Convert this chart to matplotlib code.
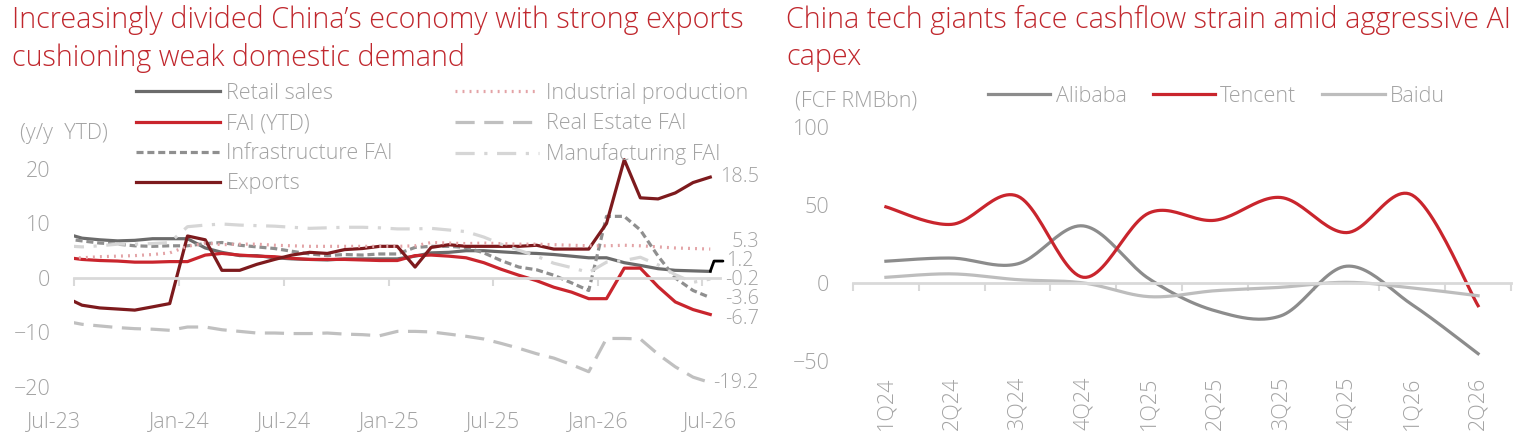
import matplotlib.pyplot as plt
import matplotlib.dates as mdates
from matplotlib.transforms import ScaledTranslation
import numpy as np
import pandas as pd

plt.rcParams['font.family'] = ['Open Sans', 'DejaVu Sans']
plt.rcParams['font.weight'] = 'light'

# ---- left chart data (monthly, Jun-23 .. Jul-26) ----
months = pd.date_range('2023-06-01', '2026-07-01', freq='MS')
retail = [8.2, 7.3, 7.0, 6.8, 6.9, 7.2, 7.2, 7.2,
          5.5, 4.7, 4.1, 4.1, 3.7, 3.5, 3.4, 3.3, 3.5, 3.5, 3.5,
          3.5, 4.0, 4.6, 4.7, 5.0, 5.0, 4.8, 4.6, 4.5, 4.3, 4.0, 3.7,
          3.7, 2.8, 2.3, 1.7, 1.4, 1.3, 1.2]
fai = [3.8, 3.4, 3.2, 3.1, 2.9, 2.9, 3.0, 3.0,
       4.2, 4.5, 4.2, 4.0, 3.9, 3.6, 3.4, 3.4, 3.4, 3.3, 3.2,
       3.2, 4.1, 4.2, 4.0, 3.7, 2.8, 1.6, 0.5, -0.5, -1.7, -2.6, -3.8,
       -3.8, 1.8, 1.8, -1.6, -4.4, -5.8, -6.7]
infra = [7.2, 6.8, 6.4, 6.2, 5.9, 5.8, 5.9, 5.9,
         6.3, 6.5, 6.0, 5.7, 5.4, 4.9, 4.4, 4.1, 4.3, 4.2, 4.4,
         4.4, 5.6, 5.8, 5.8, 5.6, 4.6, 3.2, 2.0, 1.5, 0.5, -0.9, -2.3,
         11.3, 11.3, 8.8, 4.0, 0.0, -2.3, -3.6]
exports = [-3.5, -5.0, -5.5, -5.7, -5.9, -5.3, -4.7, 7.7,
           7.0, 1.4, 1.4, 2.5, 3.4, 4.2, 4.7, 4.5, 5.2, 5.4, 5.8,
           5.8, 2.0, 5.6, 6.1, 5.8, 5.8, 5.8, 5.8, 6.0, 5.3, 5.3, 5.3,
           10.0, 21.7, 14.7, 14.5, 15.6, 17.5, 18.5]
ind_prod = [3.6, 3.7, 3.9, 4.0, 4.1, 4.3, 4.6, 5.8,
            6.4, 6.1, 6.2, 6.2, 6.0, 5.9, 5.8, 5.8, 5.8, 5.8, 5.8,
            5.8, 5.9, 6.5, 6.4, 6.3, 6.4, 6.3, 6.2, 6.2, 6.1, 6.0, 5.9,
            5.9, 6.0, 5.9, 5.7, 5.5, 5.4, 5.3]
real_estate = [-7.9, -8.5, -8.8, -9.1, -9.3, -9.4, -9.6, -9.0,
               -9.0, -9.5, -9.8, -10.1, -10.1, -10.2, -10.2, -10.1, -10.3, -10.4, -10.6,
               -9.8, -9.8, -9.9, -10.3, -10.7, -11.2, -12.0, -12.9, -13.9, -14.7, -15.9, -17.2,
               -11.1, -11.1, -11.2, -14.0, -16.3, -18.2, -19.2]
manuf = [5.9, 5.7, 5.9, 6.2, 6.2, 6.3, 6.5, 9.4,
         9.7, 9.9, 9.7, 9.6, 9.5, 9.3, 9.1, 9.2, 9.3, 9.3, 9.2,
         9.0, 9.0, 9.1, 8.8, 8.5, 7.5, 6.2, 5.1, 4.0, 2.7, 1.9, 1.0,
         2.9, 3.2, 3.8, 2.4, 0.6, -0.8, -0.2]
left_ticks = ['Jul-23', 'Jan-24', 'Jul-24', 'Jan-25', 'Jul-25', 'Jan-26', 'Jul-26']

# ---- right chart data ----
quarters = ['1Q24', '2Q24', '3Q24', '4Q24', '1Q25', '2Q25', '3Q25', '4Q25', '1Q26', '2Q26']
alibaba = [13.9, 15.9, 12.2, 36.5, 2.6, -17.8, -21.1, 10.7, -14.0, -45.3]
tencent = [48.7, 37.5, 55.6, 3.6, 44.8, 40.1, 54.7, 32.2, 56.2, -14.6]
baidu = [3.6, 5.8, 2.1, 0.0, -8.8, -5.0, -2.8, 0.4, -3.2, -8.2]

TITLE_RED = '#c0272d'
TXT = '#a3a3a3'
AXIS = '#d9d9d9'
FS = 15.5
TFS = 20.7
EFS = 14.3  # end-of-line labels


def smooth(x, y, n=25):
    # Excel-style smoothed line (cubic Bezier through the points)
    x = np.asarray(x, float)
    y = np.asarray(y, float)
    xs, ys = [x[0]], [y[0]]
    t = np.linspace(0, 1, n)[1:]
    for i in range(len(x) - 1):
        a = max(i - 1, 0)
        b = min(i + 2, len(x) - 1)
        c1x = x[i] + (x[i + 1] - x[a]) / 6
        c1y = y[i] + (y[i + 1] - y[a]) / 6
        c2x = x[i + 1] - (x[b] - x[i]) / 6
        c2y = y[i + 1] - (y[b] - y[i]) / 6
        xs.extend((1 - t)**3 * x[i] + 3 * (1 - t)**2 * t * c1x + 3 * (1 - t) * t**2 * c2x + t**3 * x[i + 1])
        ys.extend((1 - t)**3 * y[i] + 3 * (1 - t)**2 * t * c1y + 3 * (1 - t) * t**2 * c2y + t**3 * y[i + 1])
    return np.array(xs), np.array(ys)


fig = plt.figure(figsize=(15.13, 4.4), dpi=100)

# ================= left chart =================
ax = fig.add_axes([74 / 1513, 0.1205, 646 / 1513, 0.5575])
x = mdates.date2num(months + pd.Timedelta(days=14))
lw = 2.3
ax.plot(x, retail, color='#6b6b6b', lw=lw, label='Retail sales')
ax.plot(x, fai, color='#c9252d', lw=lw, label='FAI (YTD)')
ax.plot(x, infra, color='#8f8f8f', lw=lw, ls=(0, (2.2, 1.2)), label='Infrastructure FAI')
ax.plot(x, exports, color='#7d1a1d', lw=lw, label='Exports')
ax.plot(x, ind_prod, color='#e3a3a6', lw=lw, ls=(0, (0.6, 1.6)), label='Industrial production')
ax.plot(x, real_estate, color='#c0c0c0', lw=lw, ls=(0, (6, 3)), label='Real Estate FAI')
ax.plot(x, manuf, color='#d6d6d6', lw=lw, ls=(0, (6, 3, 1, 3)), label='Manufacturing FAI')

x0 = mdates.date2num(pd.Timestamp('2023-07-01'))
x1 = mdates.date2num(pd.Timestamp('2026-08-01'))
ax.set_xlim(x0, x1)
ax.set_ylim(-20, 25)
ax.set_yticks([-20, -10, 0, 10, 20])
tick_pos = mdates.date2num(pd.date_range('2023-07-01', '2026-07-01', freq='6MS'))
ax.set_xticks(tick_pos)
ax.tick_params(axis='x', direction='out', length=6, width=1.5, color=AXIS, labelbottom=False)
ax.tick_params(axis='y', length=0, labelsize=FS, labelcolor=TXT, pad=17)
for s in ['top', 'right', 'left']:
    ax.spines[s].set_visible(False)
ax.spines['bottom'].set_position(('data', 0))
ax.spines['bottom'].set_color(AXIS)
ax.spines['bottom'].set_linewidth(2)
sec = ax.secondary_xaxis('bottom')
sec.set_xticks(tick_pos, left_ticks)
sec.tick_params(length=0, labelsize=FS, labelcolor=TXT, pad=17)
sec.spines['bottom'].set_visible(False)
lbls = sec.get_xticklabels()
lbls[0].set_transform(lbls[0].get_transform() + ScaledTranslation(-0.2, 0, fig.dpi_scale_trans))
lbls[-1].set_transform(lbls[-1].get_transform() + ScaledTranslation(0.08, 0, fig.dpi_scale_trans))

# end-of-line value labels
end_labels = [(exports, '18.5', 0), (ind_prod, '5.3', 5), (manuf, '-0.2', -1),
              (infra, '-3.6', -1), (fai, '-6.7', -3), (real_estate, '-19.2', 0)]
for series, txt, dy in end_labels:
    ax.annotate(txt, xy=(x[-1], series[-1]), xytext=(35, dy), textcoords='offset points',
                ha='right', va='center', fontsize=EFS, color=TXT, annotation_clip=False)
ax.annotate('1.2', xy=(x[-1], retail[-1]), xytext=(x[-1] + 27, retail[-1] + 1.9),
            textcoords='data', ha='left', va='center', fontsize=EFS, color=TXT,
            arrowprops=dict(arrowstyle='-', color='black', lw=2,
                            connectionstyle='angle,angleA=0,angleB=70,rad=0',
                            shrinkA=0, shrinkB=0, relpos=(0, 0.5)))

leg = ax.legend(ncol=2, loc='upper left', bbox_to_anchor=(136 / 1513, 1 - 83 / 440),
                bbox_transform=fig.transFigure, frameon=False, fontsize=FS,
                handlelength=3.9, handletextpad=0.3, columnspacing=2.9,
                labelspacing=0.42, borderaxespad=0, borderpad=0)
for t in leg.get_texts():
    t.set_color(TXT)

fig.text(20 / 1513, 1 - 133 / 440, '(y/y  YTD)', fontsize=FS, color=TXT, va='center')
fig.text(12 / 1513, 1 - 5 / 440,
         'Increasingly divided China\u2019s economy with strong exports\ncushioning weak domestic demand',
         fontsize=TFS, color=TITLE_RED, va='top', ha='left', linespacing=1.33)

# ================= right chart =================
ax2 = fig.add_axes([853 / 1513, 0.1795, 658 / 1513, 0.5325])
qx = np.arange(len(quarters))
for vals, col, name in [(alibaba, '#8c8c8c', 'Alibaba'), (tencent, '#c9252d', 'Tencent'),
                        (baidu, '#bdbdbd', 'Baidu')]:
    sx, sy = smooth(qx, vals)
    ax2.plot(sx, sy, color=col, lw=2.3, label=name)
ax2.set_xlim(-0.5, len(quarters) - 0.5)
ax2.set_ylim(-50, 100)
ax2.set_yticks([-50, 0, 50, 100])
ax2.set_xticks(np.arange(len(quarters) + 1) - 0.5)
ax2.tick_params(axis='x', direction='out', length=6, width=1.5, color=AXIS, labelbottom=False)
ax2.tick_params(axis='y', length=0, labelsize=FS, labelcolor=TXT, pad=17)
for s in ['top', 'right', 'left']:
    ax2.spines[s].set_visible(False)
ax2.spines['bottom'].set_position(('data', 0))
ax2.spines['bottom'].set_color(AXIS)
ax2.spines['bottom'].set_linewidth(2)
sec2 = ax2.secondary_xaxis('bottom')
sec2.set_xticks(qx, quarters, rotation=90)
sec2.tick_params(length=0, labelsize=FS, labelcolor=TXT, pad=11)
sec2.spines['bottom'].set_visible(False)

leg2 = ax2.legend(ncol=3, loc='center left', bbox_to_anchor=(988 / 1513, 1 - 96 / 440),
                  bbox_transform=fig.transFigure, frameon=False, fontsize=FS,
                  handlelength=2.9, handletextpad=0.25, columnspacing=1.2,
                  borderaxespad=0, borderpad=0)
for t in leg2.get_texts():
    t.set_color(TXT)

fig.text(795 / 1513, 1 - 101 / 440, '(FCF RMBbn)', fontsize=FS, color=TXT, va='center')
fig.text(786 / 1513, 1 - 5 / 440,
         'China tech giants face cashflow strain amid aggressive AI\ncapex',
         fontsize=TFS, color=TITLE_RED, va='top', ha='left', linespacing=1.33)

fig.savefig('out.png', dpi=100)
